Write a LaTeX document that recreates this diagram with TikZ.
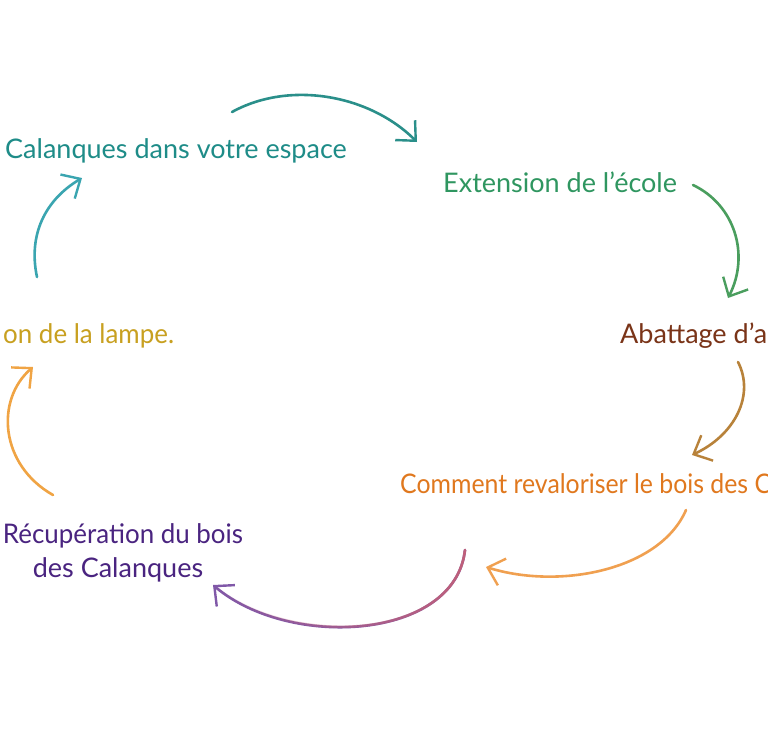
\documentclass[tikz,border=0pt]{standalone}
\usepackage{fontspec}
\setmainfont{Lato}
\usetikzlibrary{arrows.meta,fadings}
\definecolor{cTealT}{HTML}{1E8C88}
\definecolor{cGreenT}{HTML}{2F9660}
\definecolor{cBrownT}{HTML}{7A3418}
\definecolor{cOrangeT}{HTML}{E0781E}
\definecolor{cPurpleT}{HTML}{4A2480}
\definecolor{cGoldT}{HTML}{C8A020}
\definecolor{aTeal}{HTML}{2A8F8A}
\definecolor{aCyan}{HTML}{3AA5B0}
\definecolor{aGreen}{HTML}{4A9E5E}
\definecolor{aBrown}{HTML}{B8823A}
\definecolor{aOrange}{HTML}{F0A050}
\definecolor{aPurple}{HTML}{8058A8}
\definecolor{aPink}{HTML}{C0607A}
\definecolor{aGold}{HTML}{F0A444}
\tikzset{
  lbl/.style={anchor=base west, inner sep=0pt, font=\fontsize{27}{32}\selectfont},
  lblc/.style={anchor=base, inner sep=0pt, font=\fontsize{27}{32}\selectfont},
  cyc/.style={line width=2.6pt, line cap=round, -{Straight Barb[length=15pt,width=28pt,line width=2.4pt]}},
}
\begin{document}
\begin{tikzpicture}[x=1pt,y=-1pt]
\clip (0,0) rectangle (768,750);
\fill[white] (0,0) rectangle (768,750);
% labels
\node[lbl, text=cTealT] (esp) at (5,158) {Calanques dans votre espace};
\node[lbl, text=cGreenT] (ext) at (443,192) {Extension de l’école};
\node[lbl, text=cBrownT] (aba) at (620,343) {Abattage d’a};
\node[lbl, text=cOrangeT, xscale=0.92] (com) at (400,493) {Comment revaloriser le bois des Ca};
\node[lblc, text=cPurpleT, xscale=0.96] (rec1) at (123,543) {Récupération du bois};
\node[lblc, text=cPurpleT] (rec2) at (118,577) {des Calanques};
\node[lbl, text=cGoldT, xscale=0.96] (lam) at (3,343) {on de la lampe.};
% arrow endpoints
\coordinate (a1s) at (232,112); \coordinate (a1e) at (417,142);
\coordinate (a2s) at (693,185); \coordinate (a2e) at (728,298);
\coordinate (a3s) at (738,362); \coordinate (a3e) at (692,455);
\coordinate (a4s) at (686,510); \coordinate (a4e) at (486,567);
\coordinate (a5s) at (465,550); \coordinate (a5e) at (213,585);
\coordinate (a6s) at (53,495);  \coordinate (a6e) at (33,367);
\coordinate (a7s) at (37,277);  \coordinate (a7e) at (82,178);
% arrows
\draw[cyc, aTeal]   (a1s) .. controls (290,80) and (370,95) .. (a1e);
\draw[cyc, aGreen]  (a2s) .. controls (735,205) and (750,255) .. (a2e);
\draw[cyc, aBrown]  (a3s) .. controls (755,395) and (735,435) .. (a3e);
\draw[cyc, aOrange] (a4s) .. controls (660,570) and (560,590) .. (a4e);
\draw[cyc, aPurple] (a5s) .. controls (455,640) and (290,650) .. (a5e);
\draw[line width=2.6pt, line cap=round, aPink, path fading=west] (a5s) .. controls (455,640) and (290,650) .. (a5e);
\draw[cyc, aGold]   (a6s) .. controls (0,465) and (-5,400) .. (a6e);
\draw[cyc, aCyan]   (a7s) .. controls (28,235) and (45,200) .. (a7e);
\end{tikzpicture}
\end{document}
